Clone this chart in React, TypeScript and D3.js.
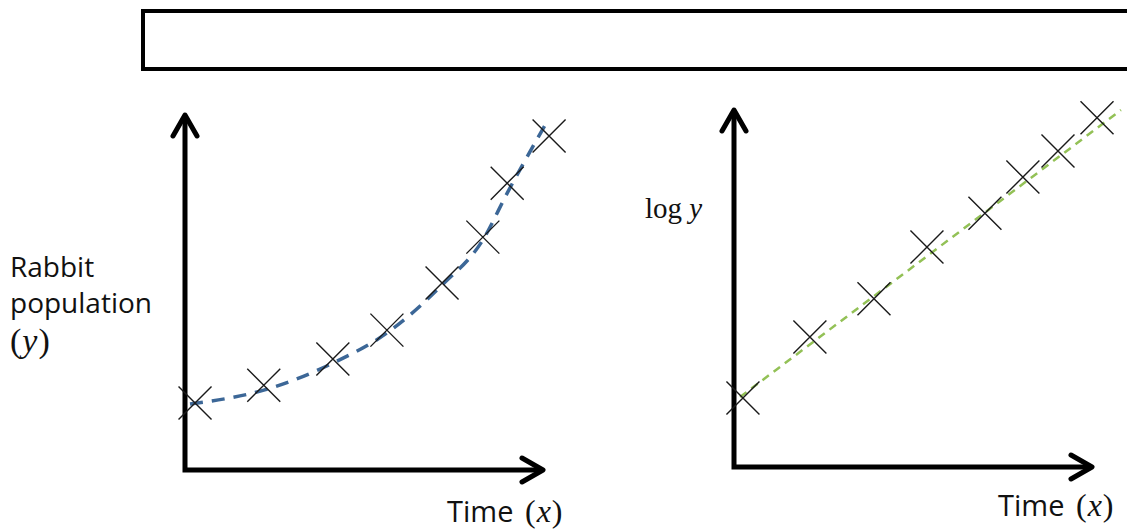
import React, { useRef, useEffect } from 'react';
import * as d3 from 'd3';

// left panel: raw population over time
const leftTime = [0.28, 2.2, 4.13, 5.64, 7.18, 8.32, 9.0, 10.17];
const leftPopulation = [18.9, 23.9, 31.3, 39.4, 52.7, 65.6, 80.8, 94.1];
const leftFitTime = [0.14, 2.2, 4.13, 5.64, 7.18, 8.32, 9.0, 10.14];
const leftFitPopulation = [18.6, 22.5, 30.1, 38.6, 52.1, 64.8, 78, 98.6];

// right panel: log of population over time
const rightTime = [0.25, 2.12, 3.91, 5.39, 7.01, 8.07, 9.05, 10.14];
const rightLogPopulation = [19.3, 36.4, 47.1, 61.6, 71.1, 81.2, 88.5, 97.8];
const rightFitTime = [0.17, 10.81];
const rightFitLogPopulation = [19.6, 100];

const xLabel = 'Time';
const leftYLabel = ['Rabbit', 'population'];

const sans = '"Open Sans", sans-serif';
const serif = '"Liberation Serif", serif';

const App = () => {
  const ref = useRef(null);

  useEffect(() => {
    const svg = d3.select(ref.current);
    svg.selectAll('*').remove();

    // empty title box
    svg
      .append('rect')
      .attr('x', 143)
      .attr('y', 11)
      .attr('width', 1000)
      .attr('height', 58)
      .attr('fill', 'none')
      .attr('stroke', '#000')
      .attr('stroke-width', 4);

    const drawAxes = (g, x, y) => {
      const [x0, x1] = x.range();
      const [y0, y1] = y.range();
      g.append('path')
        .attr('d', `M${x0},${y1}L${x0},${y0}L${x1},${y0}`)
        .attr('fill', 'none')
        .attr('stroke', '#000')
        .attr('stroke-width', 5)
        .attr('stroke-linejoin', 'miter');
      g.append('path')
        .attr('d', `M${x0 - 12},${y1 + 21}L${x0},${y1}L${x0 + 12},${y1 + 21}`)
        .attr('fill', 'none')
        .attr('stroke', '#000')
        .attr('stroke-width', 5)
        .attr('stroke-linecap', 'round')
        .attr('stroke-linejoin', 'round');
      g.append('path')
        .attr('d', `M${x1 - 21},${y0 - 12}L${x1},${y0}L${x1 - 21},${y0 + 12}`)
        .attr('fill', 'none')
        .attr('stroke', '#000')
        .attr('stroke-width', 5)
        .attr('stroke-linecap', 'round')
        .attr('stroke-linejoin', 'round');
    };

    const drawMarkers = (g, x, y, xs, ys) => {
      const s = 16.5;
      g.selectAll('path.mark')
        .data(xs.map((t, i) => [t, ys[i]]))
        .join('path')
        .attr('class', 'mark')
        .attr('d', (d) => {
          const cx = x(d[0]);
          const cy = y(d[1]);
          return `M${cx - s},${cy - s}L${cx + s},${cy + s}M${cx - s},${cy + s}L${cx + s},${cy - s}`;
        })
        .attr('stroke', '#1a1a1a')
        .attr('stroke-width', 1.4)
        .attr('fill', 'none');
    };

    const drawTimeLabel = (g, px, py) => {
      const t = g
        .append('text')
        .attr('x', px)
        .attr('y', py)
        .attr('font-size', 29)
        .attr('fill', '#111');
      t.append('tspan').attr('font-family', sans).text(`${xLabel} `);
      t.append('tspan').attr('font-family', serif).attr('font-size', 32).attr('dx', 4).text('(');
      t.append('tspan').attr('font-family', serif).attr('font-size', 32).attr('font-style', 'italic').attr('dx', 1).text('x');
      t.append('tspan').attr('font-family', serif).attr('font-size', 32).attr('dx', 1).text(')');
    };

    // left panel
    const xL = d3.scaleLinear().domain([0, 10]).range([185, 543]);
    const yL = d3.scaleLinear().domain([0, 100]).range([470, 115]);
    const gL = svg.append('g');

    const curve = d3
      .line()
      .x((d) => xL(d[0]))
      .y((d) => yL(d[1]))
      .curve(d3.curveMonotoneX);

    drawAxes(gL, xL, yL);
    gL.append('path')
      .datum(leftFitTime.map((t, i) => [t, leftFitPopulation[i]]))
      .attr('d', curve)
      .attr('fill', 'none')
      .attr('stroke', '#3c6797')
      .attr('stroke-width', 3.5)
      .attr('stroke-dasharray', '13 9');
    drawMarkers(gL, xL, yL, leftTime, leftPopulation);
    drawTimeLabel(gL, 447, 522);

    const yl = gL.append('text').attr('font-size', 28).attr('fill', '#111').attr('font-family', sans);
    leftYLabel.forEach((s, i) => {
      yl.append('tspan').attr('x', 10).attr('y', 277 + i * 36).text(s);
    });
    const paren = gL.append('text').attr('x', 10).attr('y', 352).attr('font-size', 34).attr('fill', '#111').attr('font-family', serif);
    paren.append('tspan').text('(');
    paren.append('tspan').attr('font-style', 'italic').attr('dx', 1).text('y');
    paren.append('tspan').attr('dx', 1).text(')');

    // right panel
    const xR = d3.scaleLinear().domain([0, 10]).range([734, 1092]);
    const yR = d3.scaleLinear().domain([0, 100]).range([467, 110]);
    const gR = svg.append('g');

    const straight = d3
      .line()
      .x((d) => xR(d[0]))
      .y((d) => yR(d[1]));

    drawAxes(gR, xR, yR);
    gR.append('path')
      .datum(rightFitTime.map((t, i) => [t, rightFitLogPopulation[i]]))
      .attr('d', straight)
      .attr('fill', 'none')
      .attr('stroke', '#93c156')
      .attr('stroke-width', 2.5)
      .attr('stroke-dasharray', '8 6');
    drawMarkers(gR, xR, yR, rightTime, rightLogPopulation);
    drawTimeLabel(gR, 998, 516);

    const logLabel = gR.append('text').attr('x', 645).attr('y', 218).attr('font-size', 29).attr('fill', '#111').attr('font-family', serif);
    logLabel.append('tspan').text('log ');
    logLabel.append('tspan').attr('font-style', 'italic').text('y');
  }, []);

  return (
    <svg
      ref={ref}
      width={1127}
      height={529}
      style={{ position: 'absolute', left: 0, top: 0, background: '#fff' }}
    ></svg>
  );
};

export default App;
